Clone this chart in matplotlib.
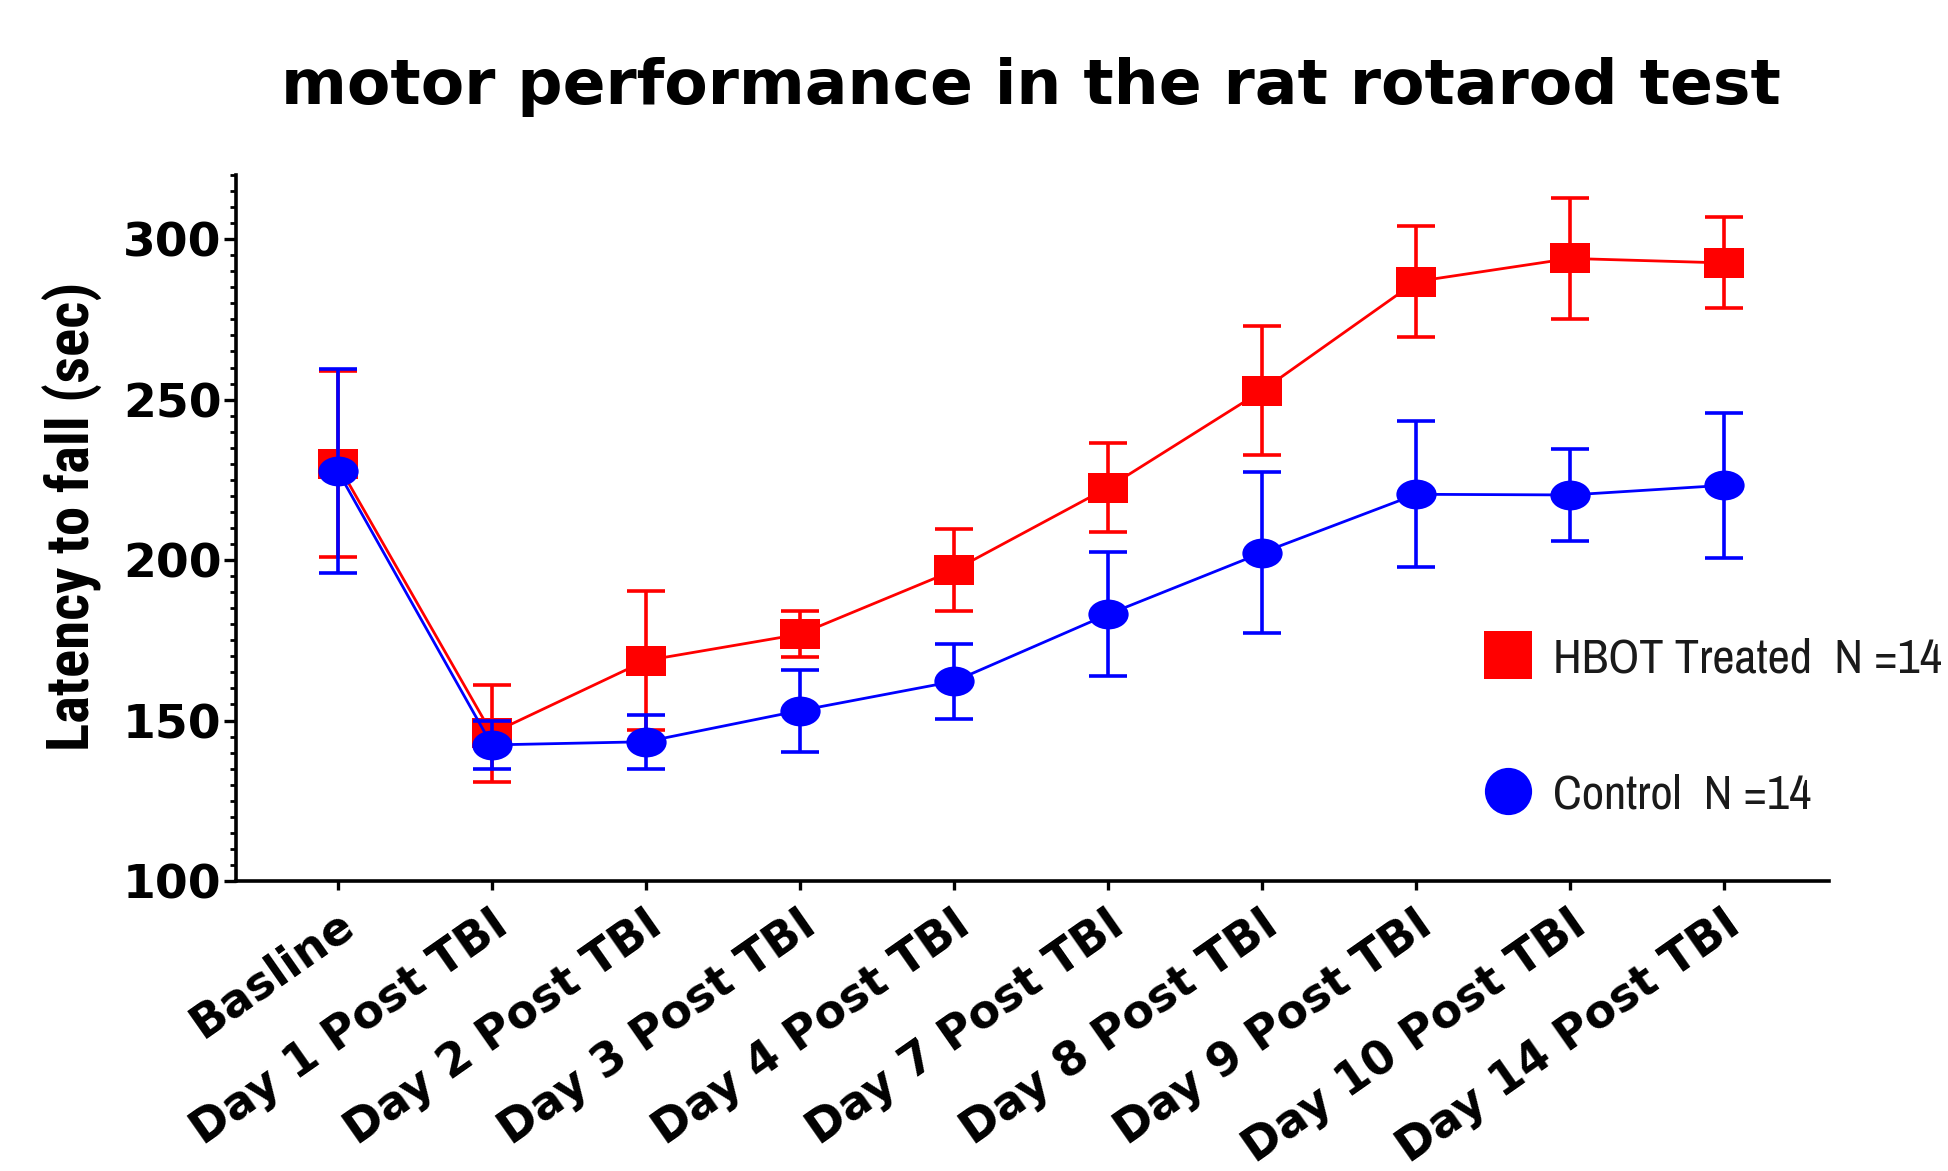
import matplotlib
matplotlib.use("Agg")
import matplotlib.pyplot as plt
import numpy as np
from matplotlib.path import Path
from matplotlib.lines import Line2D
from matplotlib import font_manager
import matplotlib.transforms as mtransforms

# ---------------- data ----------------
categories = ['Basline', 'Day 1 Post TBI', 'Day 2 Post TBI', 'Day 3 Post TBI',
              'Day 4 Post TBI', 'Day 7 Post TBI', 'Day 8 Post TBI',
              'Day 9 Post TBI', 'Day 10 Post TBI', 'Day 14 Post TBI']
hbot_mean = [229.9, 146.0, 168.7, 176.9, 196.8, 222.6, 252.8, 286.8, 294.0, 292.6]
hbot_sem = [29.0, 15.0, 21.7, 7.1, 12.8, 13.9, 20.0, 17.2, 18.8, 14.2]
control_mean = [227.8, 142.4, 143.4, 153.1, 162.2, 183.1, 202.3, 220.5, 220.3, 223.3]
control_sem = [31.8, 7.6, 8.4, 12.8, 11.6, 19.3, 25.1, 22.7, 14.3, 22.6]
hbot_label = 'HBOT Treated  N =14'
control_label = 'Control  N =14'
title = 'motor performance in the rat rotarod test'
ylabel = 'Latency to fall (sec)'
yticks = [100, 150, 200, 250, 300]

# ---------------- fonts ----------------
cands = ['Liberation Sans Narrow', 'Arial Narrow', 'Archivo Narrow', 'Roboto Condensed',
         'PT Sans Narrow', 'IBM Plex Sans Condensed', 'Fira Sans Condensed',
         'Open Sans Condensed', 'Barlow Condensed', 'Encode Sans Condensed',
         'Asap Condensed', 'DejaVu Sans Condensed']


def wnum(w):
    if isinstance(w, str):
        return font_manager.weight_dict.get(w, 400)
    return int(w)


faces = {}
for f in font_manager.fontManager.ttflist:
    faces.setdefault(f.name, []).append((wnum(f.weight), f.style, f.fname))

narrow = next((c for c in cands if c in faces), 'Liberation Sans')
narrow_bold = next((c for c in cands if c in faces and
                    any(w >= 700 and s == 'normal' and 'Variable' not in fn
                        and '[' not in fn for w, s, fn in faces[c])), 'Liberation Sans')

W, H, DPI = 1948, 1171, 100
fig = plt.figure(figsize=(W / DPI, H / DPI), dpi=DPI)
renderer = fig.canvas.get_renderer()


def fit_size(text, family, weight, target_px, base=40.0):
    t = fig.text(0, 0, text, fontsize=base, family=family, fontweight=weight)
    w = t.get_window_extent(renderer).width
    t.remove()
    return base * target_px / w


ax = fig.add_axes([236 / W, 1 - 881 / H, (1829 - 236) / W, (881 - 175) / H])

x = np.arange(len(categories))

# elliptical (stretched) markers as in the reference
sq = Path([(-0.675, -0.5), (0.675, -0.5), (0.675, 0.5), (-0.675, 0.5), (-0.675, -0.5)],
          [Path.MOVETO, Path.LINETO, Path.LINETO, Path.LINETO, Path.CLOSEPOLY])
uc = Path.unit_circle()
ell = Path(uc.vertices * np.array([0.675, 0.5]), uc.codes)

ms = 29
c1 = ax.errorbar(x, hbot_mean, yerr=hbot_sem, color='#ff0000', marker=sq, markersize=ms,
                 linewidth=2.0, elinewidth=2.6, capsize=14, capthick=2.6, zorder=3)
c2 = ax.errorbar(x, control_mean, yerr=control_sem, color='#0000ff', marker=ell,
                 markersize=ms, linewidth=2.0, elinewidth=2.6, capsize=14, capthick=2.6,
                 zorder=4)
for c in (c1, c2):
    c.lines[0].set_markeredgewidth(0)

ax.set_xlim(-0.66, 9.68)
ax.set_ylim(100, 320)

for s in ['top', 'right']:
    ax.spines[s].set_visible(False)
for s in ['left', 'bottom']:
    ax.spines[s].set_linewidth(2.6)

ax.set_yticks(yticks)
ax.set_yticks(np.arange(100, 321, 5), minor=True)
ax.tick_params(axis='y', which='major', length=8.5, width=2.4, direction='out', pad=2,
               labelsize=34)
ax.tick_params(axis='y', which='minor', length=4.5, width=2.0, direction='out')
for lab in ax.get_yticklabels():
    lab.set_fontfamily('DejaVu Sans')
    lab.set_fontweight('bold')

ax.set_xticks(x)
ax.set_xticklabels(categories, rotation=35, ha='right', va='baseline',
                   rotation_mode='anchor', fontsize=33, fontweight='bold',
                   family='DejaVu Sans')
ax.tick_params(axis='x', which='major', length=6.5, width=2.4, direction='out', pad=29)
off = mtransforms.ScaledTranslation(19 / DPI, 0, fig.dpi_scale_trans)
for lab in ax.get_xticklabels():
    lab.set_transform(lab.get_transform() + off)

ylab_fs = fit_size(ylabel, narrow_bold, 'bold', 468)
ax.set_ylabel(ylabel, fontsize=ylab_fs, fontweight='bold', family=narrow_bold)
ax.yaxis.set_label_coords((73 - 236) / (1829 - 236), (881 - 516) / (881 - 175))
ax.yaxis.label.set_va('center')
ax.yaxis.label.set_ha('center')

fig.text(1031 / W, 1 - 104 / H, title, ha='center', va='baseline', fontsize=45.5,
         fontweight='bold', family='DejaVu Sans')

# legend: one entry per row, placed at the reference row centres
lfs = fit_size(hbot_label, narrow, 'normal', 389)
fs_px = lfs * DPI / 72
rows = [(hbot_label, 's', '#ff0000', 659), (control_label, 'o', '#0000ff', 795)]
for lab, mk, col, yc in rows:
    h = Line2D([], [], color=col, marker=mk, linestyle='none', markersize=34,
               markeredgewidth=0)
    leg = fig.legend([h], [lab], loc='center left',
                     bbox_to_anchor=(1484 / W, 1 - yc / H), bbox_transform=fig.transFigure,
                     frameon=False, borderpad=0, borderaxespad=0,
                     handlelength=1.0, handletextpad=(45 - fs_px / 2) / fs_px,
                     prop={'family': narrow, 'size': lfs})
    for t in leg.get_texts():
        t.set_color('#1a1a1a')

fig.savefig('out.png', dpi=DPI)
